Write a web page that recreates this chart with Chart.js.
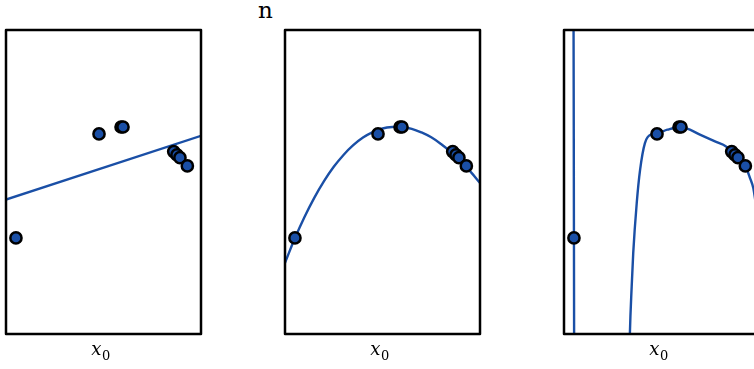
<!DOCTYPE html>
<html>
<head>
<meta charset="utf-8">
<script src="https://cdn.jsdelivr.net/npm/chart.js@4"></script>
<style>
  html, body { margin: 0; padding: 0; background: #fff; overflow: hidden; width: 754px; height: 369px; position: relative; }
  canvas { position: absolute; top: 0; }
  #title { position: absolute; left: 258px; top: -1px; font: 23px 'DejaVu Serif'; line-height: 22px; color: #000; }
</style>
</head>
<body>
<div id="title">n</div>
<canvas id="fit1" width="235" height="369" style="left:-14px"></canvas>
<canvas id="fit2" width="235" height="369" style="left:265px"></canvas>
<canvas id="fit3" width="235" height="369" style="left:544px"></canvas>
<script>
// sample points (same in all three panels)
const pointX = [0.051, 0.477, 0.590, 0.600, 0.860, 0.877, 0.892, 0.930];
const pointY = [0.316, 0.658, 0.681, 0.681, 0.600, 0.589, 0.580, 0.553];

// panel 1: straight line fit
const linX = [0, 1];
const linY = [0.442, 0.652];

// panel 2: smooth curve fit
const quadX = [0, 0.05, 0.10, 0.15, 0.20, 0.25, 0.30, 0.35, 0.40, 0.45, 0.50, 0.55, 0.60, 0.65, 0.70, 0.75, 0.80, 0.85, 0.90, 0.95, 1.00];
const quadY = [0.234, 0.314, 0.385, 0.448, 0.503, 0.550, 0.589, 0.621, 0.646, 0.664, 0.676, 0.681, 0.681, 0.675, 0.663, 0.647, 0.625, 0.599, 0.569, 0.535, 0.497];

// panel 3: overfitted curve (leaves the frame on both sides of the first point)
const overX = [0.000, 0.047, 0.051, 0.055, 0.200, 0.320, 0.338, 0.347, 0.355, 0.373, 0.390, 0.415, 0.450, 0.477, 0.530, 0.595, 0.626, 0.700, 0.780, 0.831, 0.862, 0.900, 0.930, 0.954, 0.971, 1.000];
const overY = [3.0, 1.6, 0.316, -1.0, -4.0, -0.6, 0.003, 0.155, 0.266, 0.431, 0.539, 0.628, 0.657, 0.660, 0.672, 0.681, 0.677, 0.655, 0.632, 0.617, 0.599, 0.578, 0.553, 0.513, 0.479, 0.350];

const blue = '#1a4fa6';

function toXY(xs, ys) {
  return xs.map((x, i) => ({x: x, y: ys[i]}));
}

// box around the plot area + x label
const framePlugin = {
  id: 'frame',
  afterDatasetsDraw(chart) {
    const {ctx, chartArea: a} = chart;
    ctx.save();
    ctx.lineWidth = 2.5;
    ctx.strokeStyle = '#000';
    ctx.lineJoin = 'round';
    ctx.strokeRect(a.left, a.top, a.right - a.left, a.bottom - a.top);
    ctx.restore();
  },
  afterDraw(chart) {
    const {ctx, chartArea: a} = chart;
    ctx.save();
    ctx.fillStyle = '#000';
    ctx.textBaseline = 'alphabetic';
    ctx.font = 'italic 18px "DejaVu Serif"';
    const wx = ctx.measureText('x').width;
    ctx.font = '13px "DejaVu Serif"';
    const w0 = ctx.measureText('0').width;
    const cx = (a.left + a.right) / 2 - 3;
    const start = cx - (wx + w0) / 2;
    ctx.font = 'italic 18px "DejaVu Serif"';
    ctx.fillText('x', start, 355);
    ctx.font = '13px "DejaVu Serif"';
    ctx.fillText('0', start + wx + 0.5, 360);
    ctx.restore();
  }
};

function makeChart(id, curveX, curveY, mode, tension) {
  return new Chart(document.getElementById(id), {
    type: 'scatter',
    data: {
      datasets: [{
        data: toXY(pointX, pointY),
        backgroundColor: blue,
        borderColor: '#000',
        borderWidth: 2.5,
        pointRadius: 5.6,
        showLine: false
      }, {
        data: toXY(curveX, curveY),
        borderColor: blue,
        borderWidth: 2.4,
        pointRadius: 0,
        showLine: true,
        tension: tension,
        cubicInterpolationMode: mode
      }]
    },
    options: {
      responsive: false,
      animation: false,
      events: [],
      layout: { padding: { left: 20, right: 20, top: 30, bottom: 35 } },
      elements: { line: { capBezierPoints: false } },
      scales: {
        x: { type: 'linear', min: 0, max: 1, display: false },
        y: { type: 'linear', min: 0, max: 1, display: false }
      },
      plugins: {
        legend: { display: false },
        tooltip: { enabled: false }
      }
    },
    plugins: [framePlugin]
  });
}

const chart1 = makeChart('fit1', linX, linY, 'default', 0);
const chart2 = makeChart('fit2', quadX, quadY, 'default', 0.4);
const chart3 = makeChart('fit3', overX, overY, 'monotone', 0);
</script>
</body>
</html>
